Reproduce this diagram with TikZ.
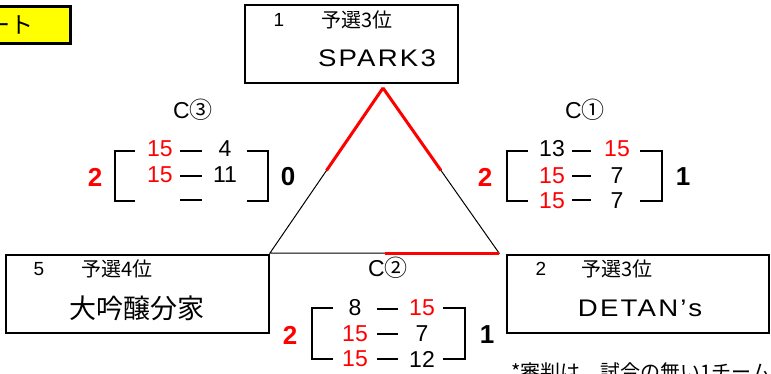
\documentclass[tikz,border=0pt]{standalone}
\usepackage{graphicx}
\usepackage{fontspec}
\setmainfont{Liberation Sans}
\newfontfamily\jp{Noto Sans CJK JP}
\usetikzlibrary{calc}
\definecolor{xred}{RGB}{255,0,0}
\definecolor{xyel}{RGB}{255,255,0}
\newcommand{\widen}[1]{\scalebox{1.15}[1]{#1}}
\tikzset{
  num/.style={font=\fontsize{23}{23}\selectfont, inner sep=0pt},
  rnum/.style={num, text=xred},
  big/.style={font=\fontsize{26}{26}\selectfont\bfseries, inner sep=0pt},
  rbig/.style={big, text=xred},
  teambox/.style={draw, line width=2.5pt},
  brk/.style={line width=2.5pt},
  bar/.style={line width=2.5pt},
  jplab/.style={font=\fontsize{20}{20}\selectfont\jp, inner sep=0pt},
  nolab/.style={font=\fontsize{19}{19}\selectfont, inner sep=0pt},
  cname/.style={font=\fontsize{23}{23}\selectfont, inner sep=0pt},
  tname/.style={font=\fontsize{24}{24}\selectfont\addfontfeature{LetterSpace=8}, inner sep=0pt},
  tri/.style={line width=1pt},
  win/.style={line width=3pt, draw=xred},
}
\begin{document}
\begin{tikzpicture}[x=1pt,y=-1pt]
\useasboundingbox (0,0) rectangle (771,374);
\clip (0,0) rectangle (771,374);

% title box (cut off, as in the reference)
\draw[teambox, fill=xyel] (-10,6.5) rectangle (70.5,43.5);
\node[font=\fontsize{23}{23}\selectfont\jp, inner sep=0pt, anchor=east] (title) at (34,25) {ート};

% team boxes
\draw[teambox] (245,5) rectangle (458,83);
\node[nolab] (n1) at (279,20) {1};
\node[jplab] (q1) at (357,20) {予選3位};
\node[tname] (t1) at (377,58) {\widen{SPARK3}};

\draw[teambox] (6,255) rectangle (269,333);
\node[nolab] (n5) at (39,269) {5};
\node[jplab] (q5) at (117,269) {予選4位};
\node[font=\fontsize{27}{27}\selectfont\jp, inner sep=0pt] (t5) at (137,308) {大吟醸分家};

\draw[teambox] (507,255) rectangle (769,333);
\node[nolab] (n2) at (541,269) {2};
\node[jplab] (q2) at (617,269) {予選3位};
\node[tname] (t2) at (640,308) {\widen{DETAN’s}};

% triangle
\coordinate (A) at (383,88);
\coordinate (B) at (270,253);
\coordinate (C) at (499,253);
\draw[tri] (A) -- (B) -- (C) -- cycle;
\draw[win] (A) -- ($(A)!0.5!(B)$);
\draw[win] (A) -- ($(A)!0.5!(C)$);
\draw[win] ($(B)!0.5!(C)$) -- (C);

% C3 block
\node[cname] (c3) at (193,110) {C{\jp ③}};
\draw[brk] (135,151) -- (115,151) -- (115,201) -- (135,201);
\draw[brk] (247,151) -- (268,151) -- (268,201) -- (247,201);
\node[rbig] (c3l) at (95,177) {2};
\node[big] (c3r) at (288,177) {0};
\node[rnum] (c3a1) at (160,149) {15};
\node[num] (c3b1) at (225,149) {4};
\node[rnum] (c3a2) at (160,175) {15};
\node[num] (c3b2) at (225,175) {11};
\coordinate (c3d1a) at (180,151); \coordinate (c3d1b) at (202,151);
\coordinate (c3d2a) at (180,176); \coordinate (c3d2b) at (202,176);
\coordinate (c3d3a) at (180,200); \coordinate (c3d3b) at (202,200);
\draw[bar] (c3d1a) -- (c3d1b);
\draw[bar] (c3d2a) -- (c3d2b);
\draw[bar] (c3d3a) -- (c3d3b);

% C1 block
\node[cname] (c1) at (585,110) {C{\jp ①}};
\draw[brk] (528,151) -- (507,151) -- (507,201) -- (528,201);
\draw[brk] (640,151) -- (662,151) -- (662,201) -- (640,201);
\node[rbig] (c1l) at (485,177) {2};
\node[big] (c1r) at (683,177) {1};
\node[num] (c1a1) at (552,149) {13};
\node[rnum] (c1b1) at (617,149) {15};
\node[rnum] (c1a2) at (552,176) {15};
\node[num] (c1b2) at (617,176) {7};
\node[rnum] (c1a3) at (552,201) {15};
\node[num] (c1b3) at (617,201) {7};
\coordinate (c1d1a) at (572,151); \coordinate (c1d1b) at (591,151);
\coordinate (c1d2a) at (572,176); \coordinate (c1d2b) at (591,176);
\coordinate (c1d3a) at (572,200); \coordinate (c1d3b) at (591,200);
\draw[bar] (c1d1a) -- (c1d1b);
\draw[bar] (c1d2a) -- (c1d2b);
\draw[bar] (c1d3a) -- (c1d3b);

% C2 block
\node[cname] (c2) at (388,268) {C{\jp ②}};
\draw[brk] (333,308) -- (312,308) -- (312,359) -- (333,359);
\draw[brk] (443,308) -- (465,308) -- (465,359) -- (443,359);
\node[rbig] (c2l) at (290,335) {2};
\node[big] (c2r) at (487,335) {1};
\node[num] (c2a1) at (355,308) {8};
\node[rnum] (c2b1) at (422,308) {15};
\node[rnum] (c2a2) at (355,334) {15};
\node[num] (c2b2) at (422,334) {7};
\node[rnum] (c2a3) at (355,359) {15};
\node[num] (c2b3) at (422,359) {12};
\coordinate (c2d1a) at (377,309); \coordinate (c2d1b) at (398,309);
\coordinate (c2d2a) at (377,334); \coordinate (c2d2b) at (398,334);
\coordinate (c2d3a) at (377,359); \coordinate (c2d3b) at (398,359);
\draw[bar] (c2d1a) -- (c2d1b);
\draw[bar] (c2d2a) -- (c2d2b);
\draw[bar] (c2d3a) -- (c2d3b);

% footnote (cut off, as in the reference)
\node[jplab, anchor=west] (note) at (511,372) {*審判は、試合の無い1チーム};
\end{tikzpicture}
\end{document}
